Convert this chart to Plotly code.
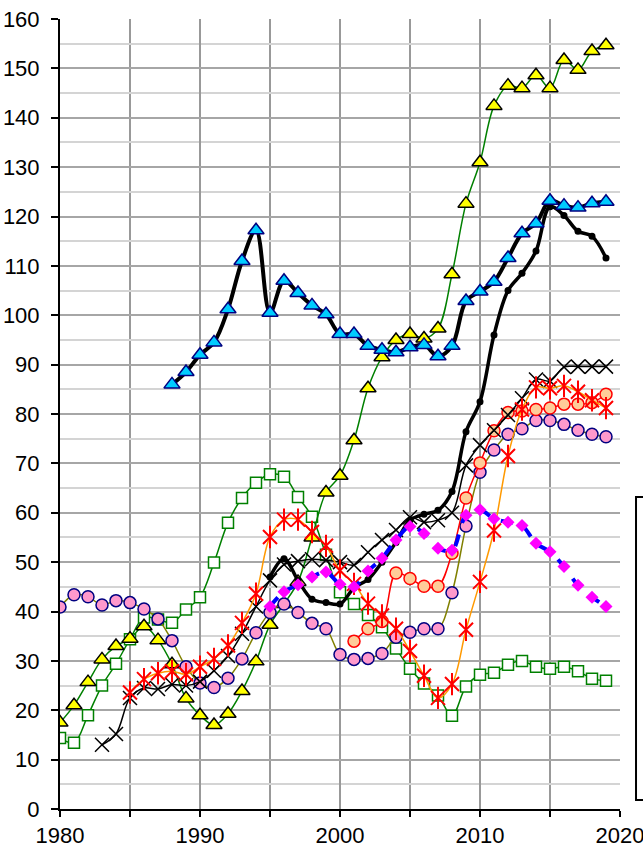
import plotly.graph_objects as go

# years for each series
years_all = list(range(1980, 2020))
years_cyan = list(range(1988, 2020))
years_x = list(range(1983, 2020))
years_star = list(range(1985, 2020))
years_peach = list(range(2001, 2020))
years_late = list(range(1995, 2020))

yellow_tri = [17.5, 21, 25.7, 30.3, 33, 34.5, 37, 34.2, 29.3, 22.4,
              19, 17, 19.3, 23.9, 29.9, 37.3, 41.5, 46, 55, 64.1,
              67.5, 74.7, 85.2, 91.5, 95, 96.2, 95.3, 97.3, 108.3, 122.6,
              131, 142.4, 146.5, 146, 148.6, 146, 151.7, 149.7, 153.5, 154.7]

cyan_tri = [86, 88.5, 92, 94.5, 101.2, 111, 117.2, 100.5, 107, 104.5,
            102, 100.2, 96.2, 96.2, 93.8, 93, 92.5, 93.5, 94, 91.7,
            93.8, 102.9, 104.8, 106.8, 111.6, 116.6, 118.6, 123.2, 122.2, 121.8,
            122.7, 123]

black_x = [13, 15.2, 22.5, 24.5, 24.3, 25.2, 25, 25.8, 28, 31,
           35.5, 41, 46.3, 49.5, 50.2, 50.6, 50.4, 50, 49.4, 52,
           54.5, 56.5, 59.1, 58.1, 58.5, 60, 69.6, 73.7, 76.7, 79.8,
           83.2, 87, 86.7, 89.5, 89.6, 89.6, 89.6]

pink_circ = [40.9, 43.4, 43, 41.3, 42.2, 41.8, 40.5, 38.5, 34.1, 28.8,
             25.5, 24.6, 26.5, 30.4, 35.7, 39.8, 41.5, 39.8, 37.6, 36.5,
             31.3, 30.3, 30.5, 31.5, 34.8, 35.8, 36.5, 36.5, 43.8, 57.3,
             68.2, 72.7, 75.9, 77, 78.7, 78.7, 77.9, 76.7, 75.9, 75.4]

peach_circ = [34, 36.5, 38, 47.8, 46.7, 45.1, 45.1, 51.8, 63, 70.1,
              76.6, 80.3, 80.6, 80.9, 81.2, 82, 82, 82.3, 84]

red_star = [23.6, 26.3, 27.5, 27.9, 27.3, 28.8, 30.4, 33.1, 37.7, 43.6,
            55.1, 58.6, 58.6, 56.1, 53.3, 48.3, 45.6, 41.6, 39.2, 36.5,
            32, 27, 22.5, 25.3, 36.3, 46, 56.4, 71.5, 80.9, 85.4,
            85.2, 85.7, 84.5, 82.8, 81.2]

green_sq = [14.4, 13.4, 19, 25, 29.4, 34.4, 38.8, 38.4, 37.7, 40.4,
            42.9, 49.9, 58, 63, 66.1, 67.8, 67.3, 63.2, 59.2, 51.5,
            43.9, 41.5, 39.3, 36.8, 32.5, 28.4, 25.4, 23, 18.9, 24.8,
            27.2, 27.6, 29.2, 30, 28.8, 28.4, 28.8, 27.9, 26.4, 26]

magenta_dia = [41, 44, 45.4, 47, 48, 45.5, 45, 48.2, 50.8, 54.5,
               57.2, 55.8, 52.8, 52.4, 59.5, 60.6, 58.8, 58.1, 57.4, 53.8,
               52.1, 49.1, 45.3, 42.9, 41]

black_dot = [47, 50.7, 46.3, 42.5, 41.8, 41.5, 44.8, 46.5, 50, 54,
             58.5, 59.7, 60.5, 64.3, 76.4, 82.5, 96, 105, 108.5, 113,
             122, 120.2, 117, 116, 111.6]

fig = go.Figure()

# green squares
fig.add_trace(go.Scatter(
    x=years_all, y=green_sq, mode='lines+markers',
    line=dict(color='#008000', width=1.5, shape='spline'),
    marker=dict(symbol='square', size=11, color='white',
                line=dict(color='#008000', width=1.5))))

# yellow triangles
fig.add_trace(go.Scatter(
    x=years_all, y=yellow_tri, mode='lines+markers',
    line=dict(color='#008000', width=1.5, shape='spline'),
    marker=dict(symbol='triangle-up', size=14, color='#FFFF00',
                line=dict(color='black', width=1.5))))

# pink circles
fig.add_trace(go.Scatter(
    x=years_all, y=pink_circ, mode='lines+markers',
    line=dict(color='#808000', width=1.5, shape='spline'),
    marker=dict(symbol='circle', size=12, color='#FF99CC',
                line=dict(color='#000080', width=1.5))))

# peach circles
fig.add_trace(go.Scatter(
    x=years_peach, y=peach_circ, mode='lines+markers',
    line=dict(color='#FF0000', width=1.5, shape='spline'),
    marker=dict(symbol='circle', size=12, color='#FFCC99',
                line=dict(color='#FF0000', width=1.5))))

# black crosses
fig.add_trace(go.Scatter(
    x=years_x, y=black_x, mode='lines+markers',
    line=dict(color='black', width=1.5, shape='spline'),
    marker=dict(symbol='x-thin-open', size=14, color='black',
                line=dict(color='black', width=1.5))))

# red asterisks (x + vertical bar)
fig.add_trace(go.Scatter(
    x=years_star, y=red_star, mode='lines+markers',
    line=dict(color='#FF9900', width=1.5, shape='spline'),
    marker=dict(symbol='x-thin-open', size=14, color='#FF0000',
                line=dict(color='#FF0000', width=2))))
fig.add_trace(go.Scatter(
    x=years_star, y=red_star, mode='markers',
    marker=dict(symbol='line-ns-open', size=16, color='#FF0000',
                line=dict(color='#FF0000', width=2))))

# thick black with dots
fig.add_trace(go.Scatter(
    x=years_late, y=black_dot, mode='lines+markers',
    line=dict(color='black', width=3.5, shape='spline'),
    marker=dict(symbol='circle', size=7, color='black')))

# magenta diamonds, blue dashed
fig.add_trace(go.Scatter(
    x=years_late, y=magenta_dia, mode='lines+markers',
    line=dict(color='#0000FF', width=4, dash='dash', shape='spline'),
    marker=dict(symbol='diamond', size=10, color='#FF00FF')))

# cyan triangles, thick black line
fig.add_trace(go.Scatter(
    x=years_cyan, y=cyan_tri, mode='lines+markers',
    line=dict(color='black', width=4, shape='spline'),
    marker=dict(symbol='triangle-up', size=14, color='#00CCFF',
                line=dict(color='#000080', width=1.5))))

# legend frame (cut off at right edge)
fig.add_shape(type='rect', xref='paper', yref='paper',
              x0=1.0286, x1=1.2, y0=0.0114, y1=0.395,
              line=dict(color='black', width=2), fillcolor='white',
              layer='below')

fig.update_layout(
    width=643, height=845,
    margin=dict(l=60, r=23, t=19, b=36),
    paper_bgcolor='white', plot_bgcolor='white',
    showlegend=False,
    font=dict(family='Arial, Liberation Sans, sans-serif', size=22, color='black'),
    xaxis=dict(range=[1980, 2020], tick0=1980, dtick=10, automargin=False,
               showgrid=True, gridcolor='#999999', gridwidth=1.5,
               showline=True, linecolor='black', linewidth=2,
               ticks='outside', ticklen=6, tickwidth=2, tickcolor='black',
               ticklabelstandoff=0, ticklabeloverflow='allow',
               minor=dict(dtick=5, showgrid=True, gridcolor='#999999',
                          gridwidth=1.5, ticks='outside', ticklen=6,
                          tickwidth=2, tickcolor='black'),
               zeroline=False),
    yaxis=dict(range=[0, 160], tick0=0, dtick=10, automargin=False,
               showgrid=True, gridcolor='#a6a6a6', gridwidth=1.5,
               showline=True, linecolor='black', linewidth=2,
               ticks='outside', ticklen=7, tickwidth=2, tickcolor='black',
               ticklabelstandoff=7, ticklabeloverflow='allow',
               minor=dict(dtick=5, showgrid=True, gridcolor='#d4d4d4',
                          gridwidth=2),
               zeroline=False),
)

# drop the default page margin so the figure sits at the window's corner
fig.write_html("out.html",
               config={'displayModeBar': False},
               post_script="document.body.style.margin='0';"
                           "document.body.style.overflow='hidden';")
